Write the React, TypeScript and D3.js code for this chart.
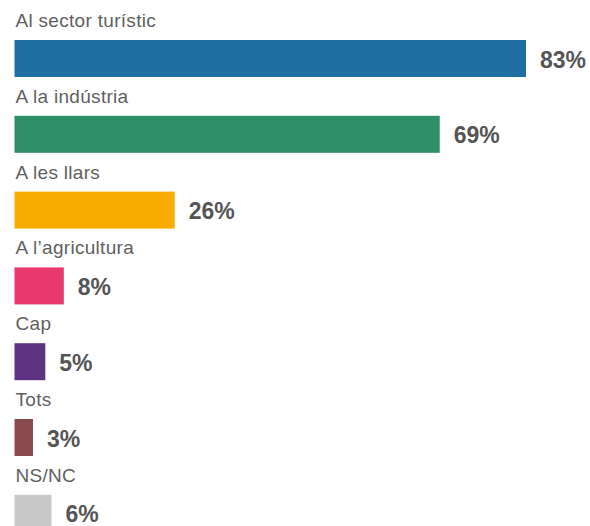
import React from "react";
import * as d3 from "d3";

const categories = ["Al sector turístic", "A la indústria", "A les llars", "A l\u2019agricultura", "Cap", "Tots", "NS/NC"];
const values = [83, 69, 26, 8, 5, 3, 6];
const colors = ["#1f6fa3", "#2f8f66", "#f9ab00", "#e8386e", "#5e3381", "#8a4a50", "#c8c8c8"];

const W = 590;
const H = 526;
const left = 14.5;
const top = 40;
const step = 75.8;
const barH = 37;

export default function App() {
  const x = d3.scaleLinear().domain([0, 83]).range([0, 511.5]);
  const y = d3
    .scaleBand<string>()
    .domain(categories)
    .range([top, top + step * categories.length])
    .paddingInner(0)
    .paddingOuter(0);

  return (
    <svg
      width={W}
      height={H}
      style={{ position: "absolute", left: 0, top: 0, display: "block", background: "#fff" }}
      fontFamily="Liberation Sans, Arial, sans-serif"
    >
      {categories.map((c, i) => {
        const y0 = y(c) as number;
        const w = x(values[i]);
        return (
          <g key={c}>
            <text x={left + 1} y={y0 - 13} fontSize={19} fill="#5f5f5f" style={{ letterSpacing: "0.3px" }}>
              {c}
            </text>
            <rect x={left} y={y0} width={w} height={barH} fill={colors[i]} />
            <text x={left + w + 14} y={y0 + barH / 2 + 9} fontSize={23} fontWeight="bold" fill="#555">
              {values[i]}%
            </text>
          </g>
        );
      })}
    </svg>
  );
}
